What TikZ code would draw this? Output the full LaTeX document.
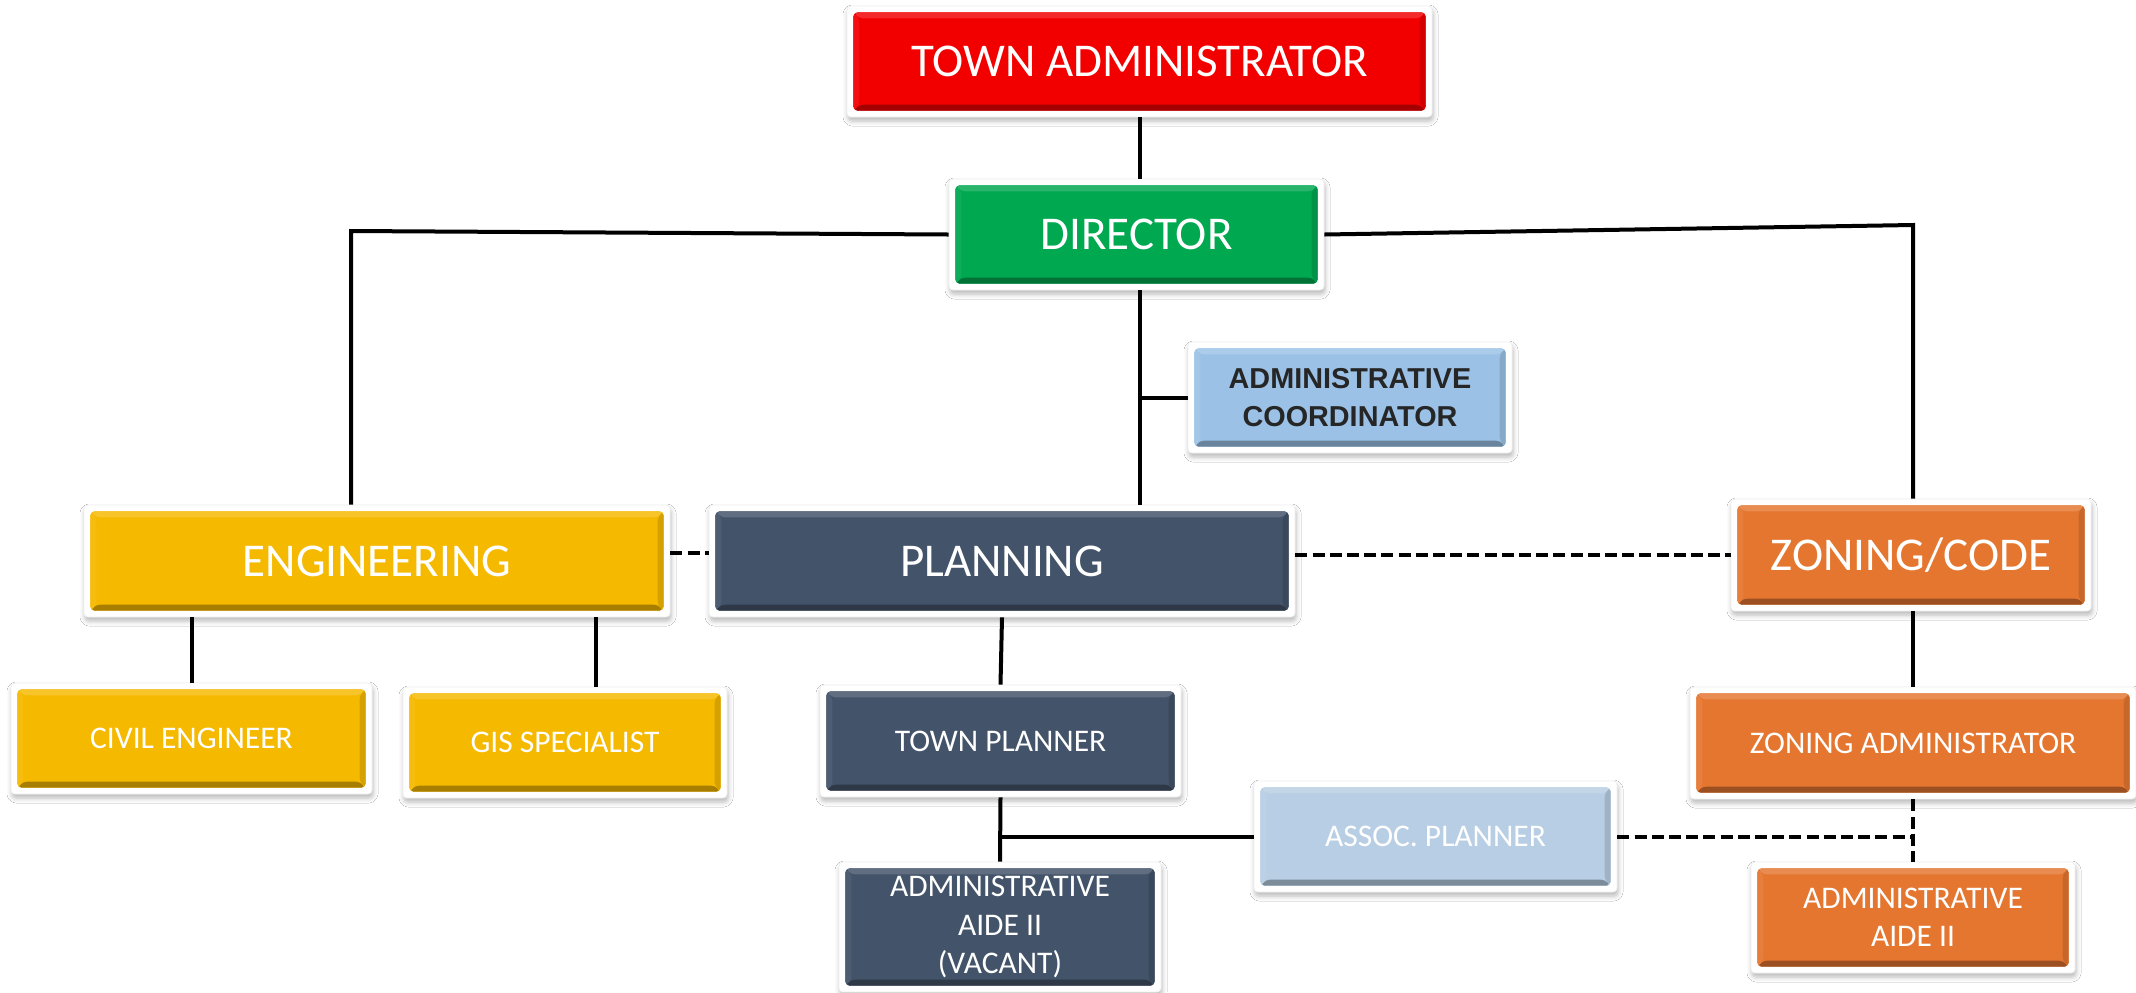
\documentclass[tikz,border=0pt]{standalone}
\usepackage{fontspec}
\setmainfont{Carlito}
\newfontfamily\acfont{Liberation Sans}
\usetikzlibrary{shadows.blur}

% box fills
\definecolor{taRed}{RGB}{242,0,0}
\definecolor{dirGreen}{RGB}{0,168,80}
\definecolor{coordBlue}{RGB}{155,194,230}
\definecolor{engGold}{RGB}{245,185,0}
\definecolor{planSlate}{RGB}{67,83,105}
\definecolor{zonOrange}{RGB}{229,118,48}
\definecolor{assocBlue}{RGB}{184,206,228}

% coloured face with a bevelled rim, inset in the white frame
\newcommand{\bevelfill}[1]{%
  \path ([shift={(3.2pt,-3.2pt)}]path picture bounding box.north west) coordinate (bA)
        ([shift={(-3.2pt,3.2pt)}]path picture bounding box.south east) coordinate (bB);
  \path (bB |- bA) coordinate (bC) (bA |- bB) coordinate (bD);
  \fill[#1] (bA) rectangle (bB);
  \fill[#1!84!white] (bA) -- (bC) -- ([shift={(-3pt,-3pt)}]bC) -- ([shift={(3pt,-3pt)}]bA) -- cycle;
  \fill[#1!68!black] (bD) -- (bB) -- ([shift={(-3pt,3pt)}]bB) -- ([shift={(3pt,3pt)}]bD) -- cycle;
  \fill[#1!94!white] (bA) -- ([shift={(3pt,-3pt)}]bA) -- ([shift={(3pt,3pt)}]bD) -- (bD) -- cycle;
  \fill[#1!87!black] (bC) -- (bB) -- ([shift={(-3pt,3pt)}]bB) -- ([shift={(-3pt,-3pt)}]bC) -- cycle;
}

\tikzset{
  orgbox/.style={rectangle, rounded corners=2pt, fill=white, draw=black!6, line width=0.4pt,
    blur shadow={shadow xshift=0.5pt, shadow yshift=-2pt, shadow blur radius=2.5pt, shadow opacity=28},
    inner sep=0pt, align=center, text=white,
    path picture={\bevelfill{#1}}},
  bigtxt/.style={font=\fontsize{23.5}{28}\selectfont},
  smalltxt/.style={font=\fontsize{15.75}{19.25}\selectfont},
  conn/.style={line width=2pt, black},
  dconn/.style={conn, dash pattern=on 6pt off 2.6pt},
}

\begin{document}
\begin{tikzpicture}[x=0.5pt, y=-0.5pt]
\useasboundingbox[fill=white] (0,0) rectangle (2136,992);

% top of the chart
\node[orgbox=taRed, bigtxt, minimum width=292.5pt, minimum height=55.5pt] (ta) at (1139.5,61.5) {TOWN ADMINISTRATOR};
\node[orgbox=dirGreen, bigtxt, minimum width=187.5pt, minimum height=55.5pt] (dir) at (1136.5,234.5) {DIRECTOR};
\node[orgbox=coordBlue, minimum width=162pt, minimum height=55.5pt, text=black!85,
      font=\acfont\bfseries\fontsize{14.4}{19}\selectfont] (ac) at (1350,397.5) {ADMINISTRATIVE\\COORDINATOR};

% divisions
\node[orgbox=engGold, bigtxt, minimum width=293pt, minimum height=56pt] (eng) at (377,561) {ENGINEERING};
\node[orgbox=planSlate, bigtxt, minimum width=293pt, minimum height=56pt] (plan) at (1002,561) {PLANNING};
\node[orgbox=zonOrange, bigtxt, minimum width=180pt, minimum height=56pt] (zon) at (1911,555) {ZONING/CODE};

% staff
\node[orgbox=engGold, smalltxt, minimum width=180.5pt, minimum height=55.5pt] (civil) at (191.5,738.5) {CIVIL ENGINEER};
\node[orgbox=engGold, smalltxt, minimum width=162pt, minimum height=55.5pt] (gis) at (565,742.5) {GIS SPECIALIST};
\node[orgbox=planSlate, smalltxt, minimum width=180.5pt, minimum height=56pt] (tp) at (1000.5,741) {TOWN PLANNER};
\node[orgbox=assocBlue, smalltxt, minimum width=181.5pt, minimum height=55.5pt] (ap) at (1435.5,836.5) {ASSOC. PLANNER};
\node[orgbox=planSlate, smalltxt, minimum width=161pt, minimum height=65pt] (aav) at (1000,927) {ADMINISTRATIVE\\AIDE II\\(VACANT)};
\node[orgbox=zonOrange, smalltxt, minimum width=223pt, minimum height=56pt] (za) at (1913,743) {ZONING ADMINISTRATOR};
\node[orgbox=zonOrange, smalltxt, minimum width=162pt, minimum height=55.5pt] (aa2) at (1913,917.5) {ADMINISTRATIVE\\AIDE II};

% corner and drop points of the connectors
\coordinate (cornerL) at (351,231);
\coordinate (cornerR) at (1913,225);
\coordinate (gisdrop) at (596,0);

% solid reporting lines
\draw[conn] (ta.south) -- (ta.south |- dir.north);
\draw[conn] (ta.south |- dir.south) -- (ta.south |- plan.north);
\draw[conn] (ta.south |- ac.west) -- (ac.west);
\draw[conn] (dir.west) -- (cornerL) -- (cornerL |- eng.north);
\draw[conn] (dir.east) -- (cornerR) -- (cornerR |- zon.north);
\draw[conn] (civil.north |- eng.south) -- (civil.north);
\draw[conn] (gisdrop |- eng.south) -- (gisdrop |- gis.north);
\draw[conn] (plan.south) -- (tp.north);
\draw[conn] (tp.south) -- (aav.north);
\draw[conn] (tp.south |- ap.west) -- (ap.west);
\draw[conn] (cornerR |- zon.south) -- (cornerR |- za.north);

% dotted-line relationships
\draw[dconn] ([yshift=4pt]eng.east) -- ([yshift=4pt]plan.west);
\draw[dconn] (zon.west -| plan.east) -- (zon.west);
\draw[dconn] (ap.east) -- (ap.east -| aa2.north);
\draw[dconn] (aa2.north |- za.south) -- (aa2.north);
\end{tikzpicture}
\end{document}
